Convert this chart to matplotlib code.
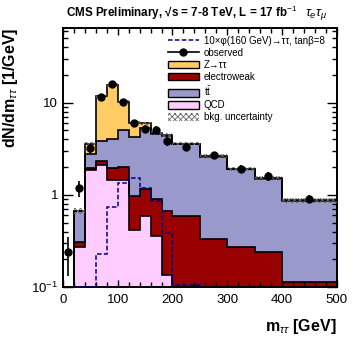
import matplotlib
matplotlib.use('Agg')
import matplotlib.pyplot as plt
from matplotlib.patches import Patch
from matplotlib.lines import Line2D
from matplotlib.ticker import FixedLocator, MultipleLocator, NullFormatter
import numpy as np

plt.rcParams['font.family'] = ['Liberation Sans', 'DejaVu Sans']
plt.rcParams['mathtext.fontset'] = 'custom'
plt.rcParams['mathtext.rm'] = 'Liberation Sans'
plt.rcParams['mathtext.it'] = 'Liberation Sans:italic'
plt.rcParams['mathtext.bf'] = 'Liberation Sans:bold'
plt.rcParams['hatch.linewidth'] = 0.6

# bin edges in m_tautau [GeV]
edges = [0, 20, 40, 60, 80, 100, 120, 140, 160, 180, 200, 250, 300, 350, 400, 500]
centers = [10, 30, 50, 70, 90, 110, 130, 150, 170, 190, 225, 275, 325, 375, 450]

# background components (dN/dm, 1/GeV), stacked bottom -> top
qcd = [0.0, 0.27, 1.85, 2.1, 1.45, 1.45, 0.42, 0.59, 0.355, 0.135, 0.0, 0.0, 0.0, 0.0, 0.0]
ewk = [0.0, 0.04, 0.12, 0.25, 0.52, 0.55, 0.55, 0.56, 0.555, 0.53, 0.59, 0.33, 0.27, 0.24, 0.114]
ttbar = [0.0, 0.36, 0.78, 1.45, 2.08, 3.0, 3.23, 4.14, 3.69, 3.7, 2.96, 2.27, 1.63, 1.26, 0.746]
ztt = [0.0, 0.0, 0.85, 7.9, 11.55, 5.3, 1.9, 0.7, 0.1, 0.1, 0.05, 0.05, 0.02, 0.02, 0.01]

# 10 x phi(160 GeV) signal
signal = [0.0, 0.1, 0.1, 0.23, 0.74, 1.36, 1.51, 1.2, 0.86, 0.39, 0.105, 0.0, 0.0, 0.0, 0.0]

# observed data
obs = [0.24, 1.18, 3.2, 11.5, 16.1, 10.3, 6.0, 5.2, 5.1, 3.85, 3.3, 2.7, 1.93, 1.6, 0.91]
obs_err = [0.11, 0.24, 0.4, 0.76, 0.9, 0.72, 0.55, 0.51, 0.5, 0.44, 0.26, 0.23, 0.2, 0.18, 0.095]

colors = {'qcd': '#FFCCFF', 'ewk': '#990000', 'tt': '#9999CC', 'ztt': '#FFCC66'}


def floor(vals):
    return np.maximum(np.array(vals, dtype=float), 1e-4)


fig = plt.figure(figsize=(3.54, 3.40), dpi=100)
ax = fig.add_axes([0.178, 0.156, 0.773, 0.762])

# cumulative stack
c_qcd = np.array(qcd)
c_ewk = c_qcd + np.array(ewk)
c_tt = c_ewk + np.array(ttbar)
c_ztt = c_tt + np.array(ztt)

stack = [(c_ztt, colors['ztt']), (c_tt, colors['tt']), (c_ewk, colors['ewk']), (c_qcd, colors['qcd'])]
for cum, col in stack:
    ax.stairs(floor(cum), edges, baseline=1e-4, fill=True, color=col, zorder=1)
for cum, col in stack:
    ax.stairs(floor(cum), edges, baseline=None, color='black', lw=1.2, zorder=2)

# background uncertainty band
unc = 0.04 * c_ztt + 0.02
ax.stairs(floor(c_ztt + unc), edges, baseline=floor(c_ztt - unc), fill=True,
          facecolor='none', edgecolor='#666666', hatch='xxxxxx', lw=0, zorder=3)

# signal
ax.stairs(floor(signal), edges, baseline=None, color='#000080', lw=1.1,
          linestyle=(0, (3, 1.5)), zorder=4)

# observed
ax.errorbar(centers, obs, yerr=obs_err, fmt='o', color='black', ms=5,
            elinewidth=1.2, capsize=0, zorder=5)

ax.set_yscale('log')
ax.set_xlim(0, 500)
ax.set_ylim(0.1, 65)

ax.xaxis.set_major_locator(MultipleLocator(100))
ax.xaxis.set_minor_locator(MultipleLocator(20))
ax.yaxis.set_major_locator(FixedLocator([0.1, 1, 10]))
ax.set_yticklabels(['10$^{-1}$', '1', '10'])
ax.yaxis.set_minor_formatter(NullFormatter())
ax.tick_params(which='both', direction='in', top=True, right=True, labelsize=9.5)
ax.tick_params(which='major', length=7, width=1)
ax.tick_params(which='minor', length=3.5, width=1)
ax.tick_params(axis='x', which='major', length=5)
ax.tick_params(axis='x', pad=5)
for sp in ax.spines.values():
    sp.set_linewidth(1.4)

ax.set_xlabel(r'm$_{\tau\tau}$ [GeV]', fontsize=11.5, fontweight='bold', loc='right',
              labelpad=8)
ax.set_ylabel(r'dN/dm$_{\tau\tau}$ [1/GeV]', fontsize=11.5, fontweight='bold', loc='top',
              labelpad=8)

fig.text(0.187, 0.935, 'CMS Preliminary, \u221as = 7-8 TeV, L = 17 fb$^{-1}$',
         fontsize=8.4, fontweight='bold', va='bottom')
fig.text(0.862, 0.935, r'$\tau_{e}\tau_{\mu}$', fontsize=9.5, va='bottom')

handles = [
    Line2D([], [], color='#000080', lw=1.1, linestyle=(0, (3, 1.5))),
    Line2D([], [], color='black', marker='o', ms=5, lw=1.2),
    Patch(facecolor=colors['ztt'], edgecolor='black', lw=1),
    Patch(facecolor=colors['ewk'], edgecolor='black', lw=1),
    Patch(facecolor=colors['tt'], edgecolor='black', lw=1),
    Patch(facecolor=colors['qcd'], edgecolor='black', lw=1),
    Patch(facecolor='white', edgecolor='#666666', hatch='xxxxxx', lw=0),
]
labels = ['10\u00d7\u03c6(160 GeV)\u2192\u03c4\u03c4, tan\u03b2=8', 'observed',
          'Z\u2192\u03c4\u03c4', 'electroweak', r't$\bar{\rm t}$', 'QCD', 'bkg. uncertainty']
ax.legend(handles, labels, loc='upper right', bbox_to_anchor=(0.985, 1.0), frameon=False,
          fontsize=7.0, handlelength=3.2, handleheight=0.8, labelspacing=0.22,
          handletextpad=0.5, borderaxespad=0.4)

fig.savefig('out.png', dpi=100)
